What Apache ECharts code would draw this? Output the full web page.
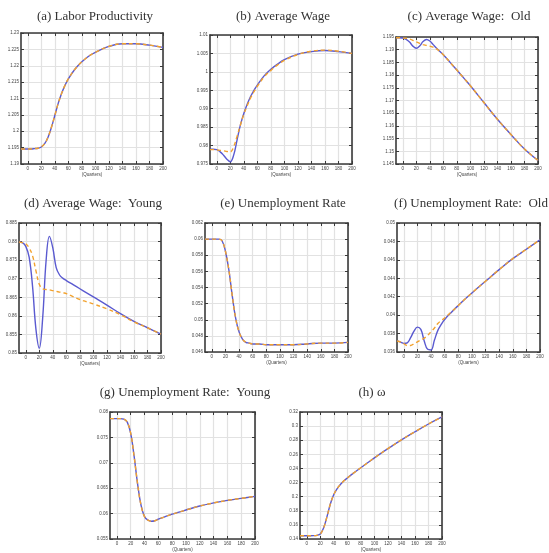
<!DOCTYPE html>
<html>
<head>
<meta charset="utf-8">
<script src="https://cdn.jsdelivr.net/npm/echarts@6/dist/echarts.min.js"></script>
<style>
  html, body { margin: 0; padding: 0; background: #fff; }
  #main { width: 549px; height: 553px; }
</style>
</head>
<body>
<div id="main"></div>
<script>
// quarters
const X = [-10, -5, 0, 5, 10, 15, 20, 25, 30, 35, 40, 45, 50, 55, 60, 70, 80, 90, 100, 120, 140, 160, 180, 200];
const xTicks = [0, 20, 40, 60, 80, 100, 120, 140, 160, 180, 200];

/* (a) labor productivity */
const prodBlue   = [1.1946, 1.1946, 1.1946, 1.1946, 1.1947, 1.1948, 1.1952, 1.1962, 1.1982, 1.2012, 1.2048, 1.2085, 1.2115, 1.2140, 1.2160, 1.2190, 1.2212, 1.2229, 1.2241, 1.2259, 1.2267, 1.2267, 1.2263, 1.2256];
const prodOrange = [1.1946, 1.1946, 1.1946, 1.1946, 1.1947, 1.1948, 1.1952, 1.1962, 1.1982, 1.2012, 1.2048, 1.2085, 1.2115, 1.2140, 1.2160, 1.2190, 1.2212, 1.2229, 1.2241, 1.2259, 1.2267, 1.2267, 1.2263, 1.2256];
const prodTicks = [1.19, 1.23, 0.005];

/* (b) average wage */
const wageBlue   = [0.9790, 0.9790, 0.9789, 0.9783, 0.9774, 0.9763, 0.9756, 0.9774, 0.9815, 0.9856, 0.9887, 0.9912, 0.9933, 0.9950, 0.9964, 0.9989, 1.0007, 1.0021, 1.0033, 1.0048, 1.0055, 1.0058, 1.0055, 1.0050];
const wageOrange = [0.9789, 0.9789, 0.9788, 0.9787, 0.9786, 0.9784, 0.9783, 0.9797, 0.9825, 0.9856, 0.9885, 0.9908, 0.9929, 0.9946, 0.9961, 0.9986, 1.0004, 1.0019, 1.0031, 1.0047, 1.0056, 1.0059, 1.0056, 1.0050];
const wageTicks = [0.975, 1.01, 0.005];

/* (c) average wage: old */
const wageOldBlue   = [1.1947, 1.1947, 1.1946, 1.1941, 1.1930, 1.1914, 1.1906, 1.1915, 1.1932, 1.1940, 1.1934, 1.1920, 1.1906, 1.1893, 1.1880, 1.1850, 1.1820, 1.1789, 1.1758, 1.1692, 1.1626, 1.1566, 1.1509, 1.1464];
const wageOldOrange = [1.1947, 1.1947, 1.1946, 1.1945, 1.1942, 1.1937, 1.1931, 1.1925, 1.1920, 1.1917, 1.1914, 1.1910, 1.1903, 1.1893, 1.1880, 1.1850, 1.1820, 1.1789, 1.1758, 1.1692, 1.1626, 1.1566, 1.1509, 1.1464];
const wageOldTicks = [1.145, 1.195, 0.005];

/* (d) average wage: young */
const wageYoungBlue   = [0.8799, 0.8797, 0.8787, 0.8758, 0.8680, 0.8565, 0.8513, 0.8594, 0.8747, 0.8814, 0.8783, 0.8730, 0.8710, 0.8701, 0.8695, 0.8684, 0.8673, 0.8662, 0.8651, 0.8629, 0.8606, 0.8585, 0.8568, 0.8551];
const wageYoungOrange = [0.8799, 0.8797, 0.8794, 0.8783, 0.8762, 0.8722, 0.8685, 0.8673, 0.8671, 0.8670, 0.8668, 0.8666, 0.8664, 0.8662, 0.8660, 0.8652, 0.8644, 0.8638, 0.8632, 0.8619, 0.8603, 0.8584, 0.8568, 0.8551];
const wageYoungTicks = [0.85, 0.885, 0.005];

/* (e) unemployment rate */
const unempBlue   = [0.0600, 0.0600, 0.0600, 0.0600, 0.0600, 0.0598, 0.0585, 0.0562, 0.0530, 0.0502, 0.0485, 0.0476, 0.0472, 0.0471, 0.0470, 0.0470, 0.0469, 0.0469, 0.0469, 0.0469, 0.0470, 0.0471, 0.0471, 0.0472];
const unempOrange = [0.0600, 0.0600, 0.0600, 0.0600, 0.0600, 0.0598, 0.0585, 0.0562, 0.0530, 0.0502, 0.0485, 0.0476, 0.0472, 0.0471, 0.0470, 0.0470, 0.0469, 0.0469, 0.0469, 0.0469, 0.0470, 0.0471, 0.0471, 0.0472];
const unempTicks = [0.046, 0.062, 0.002];

/* (f) unemployment rate: old */
const unempOldBlue   = [0.03720, 0.03708, 0.03694, 0.03700, 0.03755, 0.03827, 0.03870, 0.03845, 0.03719, 0.03629, 0.03622, 0.03730, 0.03835, 0.03900, 0.03953, 0.04032, 0.04105, 0.04175, 0.04241, 0.04368, 0.04494, 0.04613, 0.04715, 0.04818];
const unempOldOrange = [0.03720, 0.03710, 0.03690, 0.03670, 0.03670, 0.03690, 0.03710, 0.03730, 0.03750, 0.03780, 0.03820, 0.03860, 0.03910, 0.03940, 0.03970, 0.04035, 0.04105, 0.04175, 0.04241, 0.04368, 0.04494, 0.04613, 0.04715, 0.04818];
const unempOldTicks = [0.036, 0.05, 0.002];

/* (g) unemployment rate: young */
const unempYoungBlue   = [0.0787, 0.0787, 0.0787, 0.0787, 0.0786, 0.0780, 0.0758, 0.0712, 0.0658, 0.0616, 0.0594, 0.0587, 0.0585, 0.0586, 0.0589, 0.0594, 0.0599, 0.0603, 0.0607, 0.0615, 0.0621, 0.0626, 0.0630, 0.0634];
const unempYoungOrange = [0.0787, 0.0787, 0.0787, 0.0787, 0.0786, 0.0780, 0.0758, 0.0712, 0.0658, 0.0616, 0.0594, 0.0587, 0.0585, 0.0586, 0.0589, 0.0594, 0.0599, 0.0603, 0.0607, 0.0615, 0.0621, 0.0626, 0.0630, 0.0634];
const unempYoungTicks = [0.055, 0.08, 0.005];

/* (h) omega */
const omegaBlue   = [0.1447, 0.1447, 0.1447, 0.1447, 0.1448, 0.1452, 0.1470, 0.1560, 0.1720, 0.1900, 0.2030, 0.2115, 0.2175, 0.2225, 0.2265, 0.2340, 0.2410, 0.2480, 0.2550, 0.2680, 0.2805, 0.2920, 0.3030, 0.3130];
const omegaOrange = [0.1447, 0.1447, 0.1447, 0.1447, 0.1448, 0.1452, 0.1470, 0.1560, 0.1720, 0.1900, 0.2030, 0.2115, 0.2175, 0.2225, 0.2265, 0.2340, 0.2410, 0.2480, 0.2550, 0.2680, 0.2805, 0.2920, 0.3030, 0.3130];
const omegaTicks = [0.14, 0.32, 0.02];

const titles = [
  "(a) Labor Productivity", "(b) Average Wage", "(c) Average Wage:  Old",
  "(d) Average Wage:  Young", "(e) Unemployment Rate", "(f) Unemployment Rate:  Old",
  "(g) Unemployment Rate:  Young", "(h) ω"
];

const panels = [
  { blue: prodBlue, orange: prodOrange, y: prodTicks },
  { blue: wageBlue, orange: wageOrange, y: wageTicks },
  { blue: wageOldBlue, orange: wageOldOrange, y: wageOldTicks },
  { blue: wageYoungBlue, orange: wageYoungOrange, y: wageYoungTicks },
  { blue: unempBlue, orange: unempOrange, y: unempTicks },
  { blue: unempOldBlue, orange: unempOldOrange, y: unempOldTicks },
  { blue: unempYoungBlue, orange: unempYoungOrange, y: unempYoungTicks },
  { blue: omegaBlue, orange: omegaOrange, y: omegaTicks }
];

// plot boxes [left, top, width, height] and title anchors [centerX, top]
const boxes = [
  [21, 33, 142, 131], [210, 35, 142, 129], [396, 37, 142, 127],
  [19, 223, 142, 130], [205, 223, 143, 129], [397, 223, 143, 129],
  [110, 412, 145, 128], [300, 412, 142, 128]
];
const titlePos = [
  [90, 5], [278, 5], [464, 5],
  [88, 192], [278, 192], [466, 192],
  [180, 381], [367, 381]
];

const frameColor = "#3a3a3a";
const labelStyle = { fontSize: 4.5, color: "#444", fontFamily: "Liberation Sans" };

let option = {
  animation: false,
  backgroundColor: "#fff",
  title: [],
  grid: [],
  xAxis: [],
  yAxis: [],
  series: []
};

panels.forEach((p, i) => {
  const b = boxes[i];
  option.title.push({
    text: titles[i],
    left: titlePos[i][0],
    top: titlePos[i][1],
    textAlign: "center",
    textStyle: { fontFamily: "Liberation Serif", fontSize: 13, fontWeight: "normal", color: "#333" }
  });
  option.grid.push({ left: b[0], top: b[1], width: b[2], height: b[3] });

  // bottom and top x axes
  ["bottom", "top"].forEach((pos) => {
    option.xAxis.push({
      type: "value",
      gridIndex: i,
      position: pos,
      min: -10,
      max: 200,
      name: pos === "bottom" ? "(Quarters)" : "",
      nameLocation: "middle",
      nameGap: 8,
      nameTextStyle: labelStyle,
      axisLine: { show: true, onZero: false, lineStyle: { color: frameColor, width: 1.6 } },
      axisTick: { show: true, inside: true, length: 3, customValues: xTicks, lineStyle: { color: frameColor } },
      axisLabel: { show: pos === "bottom", customValues: xTicks, margin: 2, ...labelStyle },
      splitLine: { show: pos === "bottom", lineStyle: { color: "#e2e2e2", width: 1.2 } }
    });
  });

  // left and right y axes
  ["left", "right"].forEach((pos) => {
    option.yAxis.push({
      type: "value",
      gridIndex: i,
      position: pos,
      min: p.y[0],
      max: p.y[1],
      interval: p.y[2],
      axisLine: { show: true, onZero: false, lineStyle: { color: frameColor, width: 1.6 } },
      axisTick: { show: true, inside: true, length: 3, lineStyle: { color: frameColor } },
      axisLabel: { show: pos === "left", margin: 2, ...labelStyle },
      splitLine: { show: pos === "left", lineStyle: { color: "#e2e2e2", width: 1.2 } }
    });
  });

  option.series.push({
    type: "line",
    xAxisIndex: i * 2,
    yAxisIndex: i * 2,
    data: X.map((x, k) => [x, p.blue[k]]),
    smooth: 0.4,
    showSymbol: false,
    lineStyle: { color: "#5a5ad0", width: 1.4 },
    z: 3
  });
  option.series.push({
    type: "line",
    xAxisIndex: i * 2,
    yAxisIndex: i * 2,
    data: X.map((x, k) => [x, p.orange[k]]),
    smooth: 0.4,
    showSymbol: false,
    lineStyle: { color: "#f2a22e", width: 1.4, type: [4, 3] },
    z: 4
  });
});

const myChart = echarts.init(document.getElementById("main"), null, { renderer: "canvas" });
myChart.setOption(option);
</script>
</body>
</html>
